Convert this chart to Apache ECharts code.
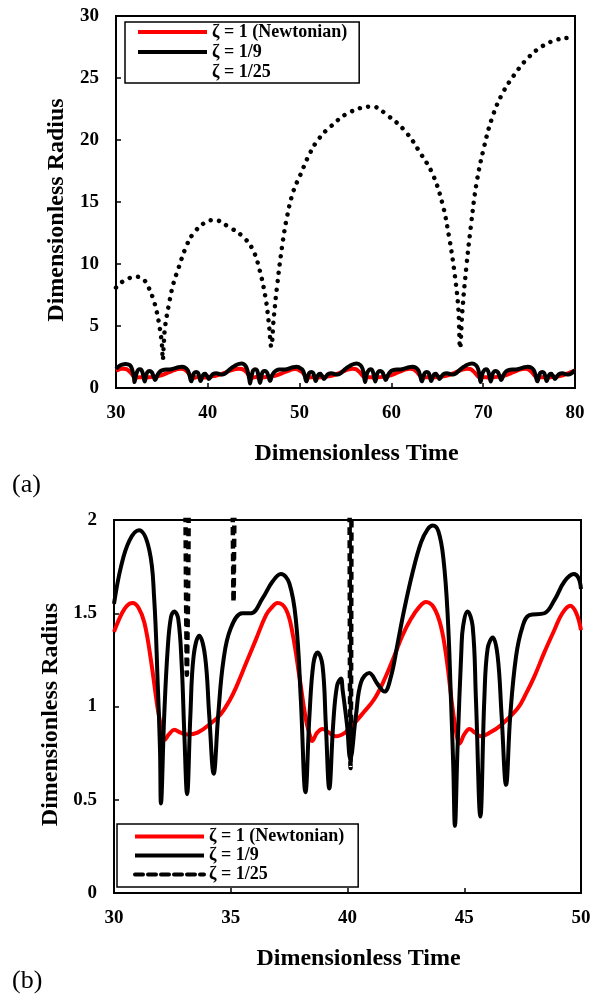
<!DOCTYPE html>
<html><head><meta charset="utf-8">
<script src="https://cdn.jsdelivr.net/npm/echarts@6/dist/echarts.min.js"></script>
<style>html,body{margin:0;padding:0;background:#fff}#c{width:594px;height:1003px}</style>
</head><body><div id="c"></div>
<script>
const seriesNames = ['ζ = 1 (Newtonian)', 'ζ = 1/9', 'ζ = 1/25'];
const xAxisTitle = 'Dimensionless Time';
const yAxisTitle = 'Dimensionless Radius';
const panelLabels = ['(a)', '(b)'];
const xRangeA = [30, 80, 10];
const yRangeA = [0, 30, 5];
const xRangeB = [30, 50, 5];
const yRangeB = [0, 2, 0.5];

// Panel (b) values, t from 30 to 50 (also the first part of panel (a))
const newtonB = [[30.0,1.40],[30.3,1.49],[30.55,1.54],[30.8,1.555],[31.05,1.53],[31.3,1.45],[31.58,1.25],[31.87,0.99],[32.08,0.85],[32.16,0.82],[32.35,0.85],[32.58,0.875],[32.85,0.86],[33.15,0.85],[33.58,0.86],[34.15,0.91],[34.58,0.96],[34.94,1.03],[35.22,1.10],[35.65,1.23],[36.08,1.36],[36.51,1.49],[36.75,1.53],[37.0,1.555],[37.37,1.52],[37.65,1.39],[37.94,1.16],[38.22,0.93],[38.4,0.84],[38.48,0.815],[38.7,0.86],[38.93,0.88],[39.2,0.86],[39.5,0.84],[39.9,0.86],[40.29,0.91],[40.7,0.97],[41.15,1.04],[41.6,1.15],[42.0,1.27],[42.35,1.38],[42.72,1.47],[43.05,1.53],[43.36,1.56],[43.7,1.53],[44.0,1.43],[44.25,1.25],[44.5,0.99],[44.7,0.83],[44.79,0.80],[45.0,0.85],[45.22,0.88],[45.45,0.86],[45.72,0.84],[46.1,0.86],[46.57,0.90],[47.29,0.99],[47.65,1.07],[48.0,1.16],[48.43,1.29],[48.86,1.41],[49.2,1.5],[49.54,1.54],[49.8,1.5],[50.0,1.41]];

const zeta9B = [[30.0,1.55],[30.3,1.75],[30.66,1.89],[31.07,1.945],[31.51,1.84],[31.72,1.58],[31.87,1.13],[31.97,0.77],[32.01,0.48],[32.15,0.95],[32.3,1.31],[32.44,1.48],[32.58,1.51],[32.75,1.47],[32.9,1.22],[33.01,0.86],[33.13,0.53],[33.27,0.95],[33.41,1.27],[33.65,1.38],[33.9,1.27],[34.08,0.95],[34.27,0.64],[34.46,0.95],[34.69,1.25],[35.0,1.42],[35.5,1.50],[35.87,1.50],[36.36,1.58],[36.79,1.67],[37.15,1.71],[37.51,1.66],[37.8,1.45],[38.0,1.04],[38.2,0.54],[38.37,0.95],[38.54,1.23],[38.72,1.29],[38.93,1.22],[39.07,0.91],[39.22,0.56],[39.39,0.91],[39.55,1.11],[39.72,1.15],[39.79,1.09],[39.98,0.9],[40.12,0.72],[40.36,0.95],[40.58,1.13],[40.93,1.18],[41.29,1.12],[41.58,1.08],[41.86,1.16],[42.15,1.34],[42.43,1.52],[42.79,1.72],[43.15,1.88],[43.43,1.95],[43.65,1.97],[43.89,1.94],[44.11,1.79],[44.29,1.49],[44.43,1.04],[44.53,0.68],[44.6,0.36],[44.71,0.77],[44.88,1.31],[44.95,1.43],[45.14,1.51],[45.36,1.43],[45.5,1.04],[45.69,0.41],[45.86,1.04],[46.0,1.31],[46.22,1.37],[46.43,1.27],[46.6,0.95],[46.79,0.58],[46.97,0.95],[47.22,1.27],[47.5,1.43],[47.79,1.49],[48.43,1.50],[48.86,1.57],[49.29,1.67],[49.69,1.71],[49.89,1.69],[50.0,1.63]];

const zeta25B = [[33.06,2.1],[33.08,1.7],[33.1,1.4],[33.12,1.17],[33.15,1.4],[33.18,1.7],[33.2,2.1],[34,'-'],[35.08,2.1],[35.1,1.8],[35.12,1.56],[35.14,1.8],[35.16,2.1],[37,'-'],[40.09,2.1],[40.1,1.5],[40.11,1.0],[40.13,0.67],[40.15,1.0],[40.16,1.5],[40.17,2.1]];

// Panel (a) values beyond t = 50
const newtonA50to80 = [[50.32,1.25],[50.61,0.99],[50.82,0.85],[50.9,0.82],[51.09,0.86],[51.32,0.875],[51.59,0.86],[51.89,0.85],[52.32,0.86],[52.89,0.91],[53.32,0.96],[53.68,1.03],[53.96,1.10],[54.39,1.23],[54.82,1.36],[55.25,1.49],[55.79,1.555],[56.04,1.53],[56.29,1.45],[56.57,1.25],[56.86,0.99],[57.07,0.85],[57.15,0.82],[57.34,0.86],[57.57,0.875],[57.84,0.86],[58.14,0.85],[58.57,0.86],[59.14,0.91],[59.57,0.96],[59.93,1.03],[60.21,1.10],[60.64,1.23],[61.07,1.36],[61.5,1.49],[62.04,1.555],[62.29,1.53],[62.54,1.45],[62.82,1.25],[63.11,0.99],[63.32,0.85],[63.4,0.82],[63.59,0.86],[63.82,0.875],[64.09,0.86],[64.39,0.85],[64.82,0.86],[65.39,0.91],[65.82,0.96],[66.18,1.03],[66.46,1.10],[66.89,1.23],[67.32,1.36],[67.75,1.49],[68.29,1.555],[68.54,1.53],[68.79,1.45],[69.07,1.25],[69.36,0.99],[69.57,0.85],[69.65,0.82],[69.84,0.86],[70.07,0.875],[70.34,0.86],[70.64,0.85],[71.07,0.86],[71.64,0.91],[72.07,0.96],[72.43,1.03],[72.71,1.10],[73.14,1.23],[73.57,1.36],[74.0,1.49],[74.54,1.555],[74.79,1.53],[75.04,1.45],[75.32,1.25],[75.61,0.99],[75.82,0.85],[75.9,0.82],[76.09,0.86],[76.32,0.875],[76.59,0.86],[76.89,0.85],[77.32,0.86],[77.89,0.91],[78.32,0.96],[78.68,1.03],[78.96,1.10],[79.39,1.23],[79.82,1.36],[80.0,1.41]];

const zeta9A50to80 = [[50.34,1.45],[50.54,1.04],[50.74,0.54],[50.91,0.95],[51.08,1.23],[51.26,1.29],[51.47,1.22],[51.61,0.91],[51.76,0.56],[51.93,0.91],[52.09,1.11],[52.26,1.15],[52.33,1.09],[52.52,0.9],[52.66,0.72],[52.9,0.95],[53.12,1.13],[53.47,1.18],[53.83,1.12],[54.12,1.08],[54.4,1.16],[54.69,1.34],[54.97,1.52],[55.33,1.72],[55.69,1.88],[55.97,1.95],[56.19,1.97],[56.63,1.84],[56.84,1.58],[56.99,1.13],[57.13,0.48],[57.27,0.95],[57.42,1.31],[57.7,1.51],[57.87,1.47],[58.02,1.22],[58.25,0.53],[58.39,0.95],[58.53,1.27],[58.77,1.38],[59.02,1.27],[59.2,0.95],[59.39,0.64],[59.58,0.95],[59.81,1.25],[60.1,1.42],[60.62,1.50],[60.99,1.50],[61.48,1.58],[61.91,1.67],[62.27,1.71],[62.63,1.66],[62.92,1.45],[63.12,1.04],[63.32,0.54],[63.49,0.95],[63.66,1.23],[63.84,1.29],[64.05,1.22],[64.19,0.91],[64.34,0.56],[64.51,0.91],[64.67,1.11],[64.84,1.15],[64.91,1.09],[65.1,0.9],[65.24,0.72],[65.48,0.95],[65.7,1.13],[66.05,1.18],[66.41,1.12],[66.7,1.08],[66.98,1.16],[67.27,1.34],[67.55,1.52],[67.91,1.72],[68.27,1.88],[68.55,1.95],[68.77,1.97],[69.21,1.84],[69.42,1.58],[69.57,1.13],[69.71,0.48],[69.85,0.95],[70.0,1.31],[70.28,1.51],[70.45,1.47],[70.6,1.22],[70.83,0.53],[70.97,0.95],[71.11,1.27],[71.35,1.38],[71.6,1.27],[71.78,0.95],[71.97,0.64],[72.16,0.95],[72.39,1.25],[72.68,1.42],[73.2,1.50],[73.57,1.50],[74.06,1.58],[74.49,1.67],[74.85,1.71],[75.21,1.66],[75.5,1.45],[75.7,1.04],[75.9,0.54],[76.07,0.95],[76.24,1.23],[76.42,1.29],[76.63,1.22],[76.77,0.91],[76.92,0.56],[77.09,0.91],[77.25,1.11],[77.42,1.15],[77.49,1.09],[77.68,0.9],[77.82,0.72],[78.06,0.95],[78.28,1.13],[78.63,1.18],[78.99,1.12],[79.28,1.08],[79.56,1.16],[79.85,1.34],[80.0,1.43]];

const zeta25A = [[30.0,8.1],[30.25,8.3],[31.0,8.7],[32.18,8.98],[33.0,8.75],[33.5,8.17],[34.0,7.3],[34.44,6.15],[34.75,4.9],[34.99,3.6],[35.1,2.26],[35.2,3.5],[35.35,4.95],[35.82,6.96],[36.26,8.44],[36.8,9.65],[37.64,11.4],[38.44,12.47],[39.72,13.36],[40.7,13.55],[42.26,13.0],[43.83,12.2],[44.92,11.13],[45.65,9.5],[46.27,7.36],[46.63,5.35],[46.92,3.33],[47.18,5.6],[47.54,8.17],[48.09,11.4],[48.63,13.8],[49.29,15.8],[50.09,17.2],[51.1,18.9],[52.09,20.1],[53.36,21.07],[55.36,22.2],[57.9,22.7],[59.55,22.0],[61.55,20.67],[63.19,18.9],[64.46,17.3],[65.55,14.9],[66.28,12.2],[66.93,8.98],[67.3,6.3],[67.48,3.2],[67.74,6.3],[68.17,9.8],[68.65,13.0],[69.27,16.5],[70.1,19.46],[71.02,21.9],[72.1,23.76],[73.37,25.24],[74.83,26.58],[76.47,27.58],[78.1,28.1],[79.56,28.27],[80.0,28.3]];

const newtonA = newtonB.concat(newtonA50to80);
const zeta9A = zeta9B.concat(zeta9A50to80);

const FONT = '"Liberation Serif", "Times New Roman", serif';
const chart = echarts.init(document.getElementById('c'), null, {renderer: 'canvas'});

function xAxisCfg(gi, r) {
  return {
    gridIndex: gi, type: 'value', min: r[0], max: r[1], interval: r[2],
    name: xAxisTitle, nameLocation: 'middle', nameGap: 54,
    nameTextStyle: {fontFamily: FONT, fontWeight: 'bold', fontSize: 24, color: '#000', padding: [0, 0, 0, 22]},
    axisLine: {lineStyle: {color: '#000', width: 2}},
    axisTick: {inside: true, length: 5, lineStyle: {color: '#000', width: 1.5}},
    axisLabel: {fontFamily: FONT, fontWeight: 'bold', fontSize: 19, color: '#000', margin: 16},
    splitLine: {show: false}
  };
}
function yAxisCfg(gi, r) {
  return {
    gridIndex: gi, type: 'value', min: r[0], max: r[1], interval: r[2],
    name: yAxisTitle, nameLocation: 'middle', nameGap: 40,
    nameTextStyle: {fontFamily: FONT, fontWeight: 'bold', fontSize: 24, color: '#000', padding: [0, 16, 0, 0]},
    axisLine: {show: true, lineStyle: {color: '#000', width: 2}},
    axisTick: {show: true, inside: true, length: 5, lineStyle: {color: '#000', width: 1.5}},
    axisLabel: {fontFamily: FONT, fontWeight: 'bold', fontSize: 19, color: '#000', margin: 17},
    splitLine: {show: false}
  };
}
function lineSeries(name, gi, data, color, extra) {
  return Object.assign({
    name: name, type: 'line', xAxisIndex: gi, yAxisIndex: gi, data: data,
    showSymbol: false, symbol: 'none', smooth: 0.4, clip: true, silent: true,
    lineStyle: {color: color, width: 4}, itemStyle: {color: color}
  }, extra || {});
}
const legendText = {fontFamily: FONT, fontWeight: 'bold', fontSize: 18, color: '#000'};
const hiddenSymbol = {opacity: 0, borderWidth: 0};

chart.setOption({
  animation: false,
  backgroundColor: '#fff',
  grid: [
    {left: 116, top: 16, width: 459, height: 372, show: true, borderColor: '#000', borderWidth: 2},
    {left: 114, top: 520, width: 467, height: 373, show: true, borderColor: '#000', borderWidth: 2}
  ],
  xAxis: [xAxisCfg(0, xRangeA), xAxisCfg(1, xRangeB)],
  yAxis: [yAxisCfg(0, yRangeA), yAxisCfg(1, yRangeB)],
  legend: [
    {
      left: 125, top: 22, orient: 'vertical', selectedMode: false,
      backgroundColor: '#fff', borderColor: '#000', borderWidth: 1.5,
      padding: [0, 12, 1, 11], itemGap: 0, itemWidth: 69, itemHeight: 14,
      itemStyle: hiddenSymbol, lineStyle: {width: 4},
      textStyle: Object.assign({lineHeight: 20}, legendText),
      data: [
        {name: seriesNames[0]},
        {name: seriesNames[1]},
        {name: seriesNames[2], lineStyle: {opacity: 0, width: 0}, itemStyle: hiddenSymbol}
      ]
    },
    {
      left: 117, top: 824, orient: 'vertical', selectedMode: false,
      backgroundColor: '#fff', borderColor: '#000', borderWidth: 1.5,
      padding: [3, 14, 3, 16], itemGap: 0, itemWidth: 69, itemHeight: 14,
      itemStyle: hiddenSymbol, lineStyle: {width: 4},
      textStyle: Object.assign({lineHeight: 19}, legendText),
      data: [
        {name: seriesNames[0]},
        {name: seriesNames[1]},
        {name: seriesNames[2], lineStyle: {type: [8, 5], width: 4, color: '#000', opacity: 1}, itemStyle: hiddenSymbol}
      ]
    }
  ],
  graphic: [
    {type: 'text', left: 12, top: 472, style: {text: panelLabels[0], font: '26px ' + FONT, fill: '#000'}},
    {type: 'text', left: 12, top: 968, style: {text: panelLabels[1], font: '26px ' + FONT, fill: '#000'}}
  ],
  series: [
    lineSeries(seriesNames[0], 0, newtonA, '#ff0000'),
    lineSeries(seriesNames[1], 0, zeta9A, '#000000'),
    lineSeries(seriesNames[2], 0, zeta25A, '#000000', {lineStyle: {color: '#000', width: 4.5, type: [0.01, 8.4], cap: 'round'}}),
    lineSeries(seriesNames[0], 1, newtonB, '#ff0000'),
    lineSeries(seriesNames[1], 1, zeta9B, '#000000'),
    lineSeries(seriesNames[2], 1, zeta25B, '#000000', {lineStyle: {color: '#000', width: 4.5, type: [8, 5]}})
  ]
});
</script>
</body></html>
